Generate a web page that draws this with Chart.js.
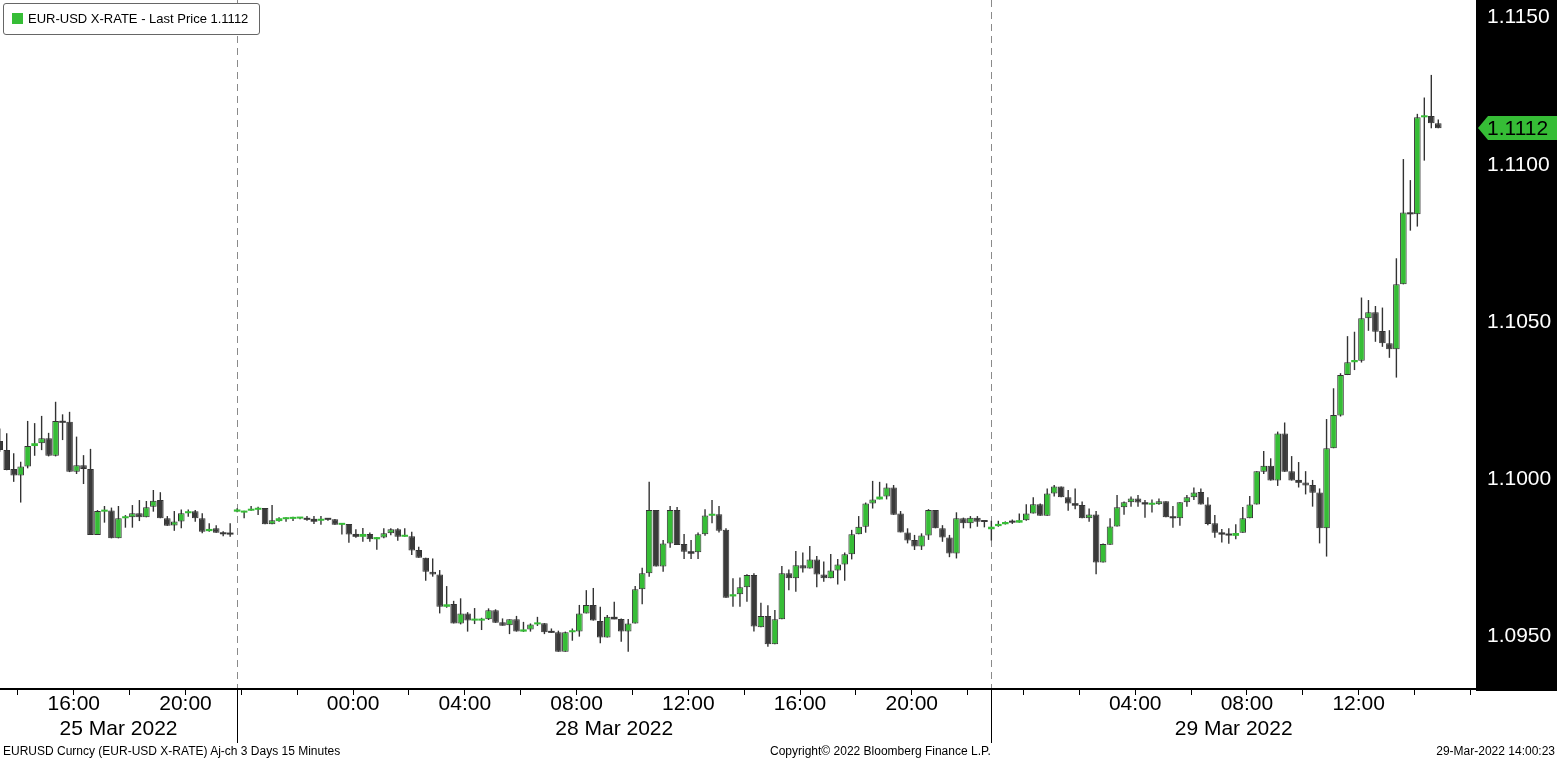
<!DOCTYPE html>
<html><head><meta charset="utf-8">
<script src="https://cdn.jsdelivr.net/npm/chart.js@4.4.1/dist/chart.umd.min.js"></script>
<style>
html,body{margin:0;padding:0;background:#fff;}
#wrap{position:relative;width:1557px;height:760px;overflow:hidden;background:#fff;font-family:'Liberation Sans',Arial,sans-serif;}
#cbox{position:absolute;left:0;top:0;width:1557px;height:744px;}
#legend{position:absolute;left:3px;top:3px;width:257px;height:32px;box-sizing:border-box;border:1px solid #666;border-radius:3px;background:#fff;}
#legend .sw{position:absolute;left:8px;top:9px;width:11px;height:11px;background:#36bd36;}
#legend .tx{position:absolute;left:24px;top:0;line-height:30px;font-size:13px;color:#000;white-space:nowrap;}
.ft{position:absolute;top:743px;height:16px;line-height:16px;font-size:12px;color:#000;white-space:nowrap;}
</style></head>
<body><div id="wrap"><div id="cbox"><canvas id="c"></canvas></div>
<div id="legend"><div class="sw"></div><div class="tx" id="legTx"></div></div>
<div class="ft" style="left:3px">EURUSD Curncy (EUR-USD X-RATE) Aj-ch 3 Days 15 Minutes</div>
<div class="ft" style="left:770px">Copyright© 2022 Bloomberg Finance L.P.</div>
<div class="ft" style="right:2px">29-Mar-2022 14:00:23</div>
</div>
<script>
// ---- data: 15-minute EUR-USD bars (bar index starts at firstBar) ----
const firstBar = -1;
const openP = [
1.10121,1.10092,1.10032,1.10011,1.10040,1.10105,1.10114,1.10130,1.10074,1.10185,
1.10182,1.10023,1.10044,1.10032,1.09822,1.09896,1.09900,1.09811,1.09875,1.09878,
1.09891,1.09878,1.09912,1.09933,1.09875,1.09852,1.09865,1.09891,1.09897,1.09875,
1.09834,1.09843,1.09829,1.09824,1.09896,1.09893,1.09899,1.09902,1.09908,1.09856,
1.09866,1.09872,1.09873,1.09874,1.09875,1.09873,1.09867,1.09873,1.09872,1.09854,
1.09857,1.09825,1.09816,1.09825,1.09808,1.09814,1.09827,1.09840,1.09816,1.09818,
1.09774,1.09749,1.09705,1.09696,1.09593,1.09602,1.09540,1.09572,1.09549,1.09549,
1.09553,1.09582,1.09544,1.09534,1.09553,1.09514,1.09521,1.09537,1.09541,1.09514,
1.09512,1.09450,1.09512,1.09514,1.09572,1.09599,1.09548,1.09495,1.09561,1.09554,
1.09514,1.09540,1.09649,1.09700,1.09901,1.09721,1.09795,1.09901,1.09793,1.09770,
1.09767,1.09824,1.09883,1.09888,1.09838,1.09626,1.09633,1.09655,1.09694,1.09528,
1.09564,1.09474,1.09553,1.09700,1.09684,1.09725,1.09715,1.09744,1.09696,1.09684,
1.09709,1.09728,1.09760,1.09824,1.09848,1.09922,1.09935,1.09944,1.09973,1.09890,
1.09830,1.09806,1.09785,1.09820,1.09901,1.09843,1.09814,1.09763,1.09875,1.09859,
1.09877,1.09866,1.09840,1.09850,1.09856,1.09863,1.09861,1.09869,1.09890,1.09920,
1.09883,1.09954,1.09976,1.09942,1.09923,1.09917,1.09875,1.09887,1.09734,1.09791,
1.09849,1.09910,1.09926,1.09938,1.09926,1.09918,1.09920,1.09929,1.09878,1.09875,
1.09926,1.09942,1.09959,1.09919,1.09859,1.09830,1.09825,1.09819,1.09829,1.09875,
1.09919,1.10023,1.10042,1.09995,1.10145,1.10025,1.09997,1.09989,1.09981,1.09957,
1.09843,1.10098,1.10202,1.10331,1.10372,1.10377,1.10512,1.10531,1.10471,1.10432,
1.10413,1.10620,1.10849,1.10843,1.11152,1.11156,1.11133];
const highP = [
1.10161,1.10146,1.10082,1.10055,1.10185,1.10178,1.10201,1.10147,1.10246,1.10206,
1.10214,1.10135,1.10076,1.10096,1.09901,1.09914,1.09909,1.09914,1.09885,1.09917,
1.09933,1.09930,1.09965,1.09958,1.09882,1.09898,1.09903,1.09903,1.09901,1.09891,
1.09859,1.09853,1.09834,1.09859,1.09907,1.09899,1.09914,1.09912,1.09908,1.09917,
1.09878,1.09878,1.09880,1.09877,1.09882,1.09882,1.09882,1.09875,1.09873,1.09859,
1.09857,1.09840,1.09844,1.09830,1.09815,1.09843,1.09843,1.09843,1.09843,1.09832,
1.09784,1.09749,1.09747,1.09710,1.09659,1.09612,1.09620,1.09576,1.09589,1.09558,
1.09588,1.09585,1.09556,1.09553,1.09564,1.09545,1.09540,1.09561,1.09541,1.09524,
1.09517,1.09514,1.09524,1.09599,1.09646,1.09653,1.09593,1.09567,1.09609,1.09556,
1.09554,1.09659,1.09717,1.09991,1.09901,1.09806,1.09914,1.09911,1.09825,1.09806,
1.09830,1.09904,1.09933,1.09914,1.09843,1.09684,1.09686,1.09697,1.09700,1.09606,
1.09598,1.09583,1.09723,1.09712,1.09771,1.09766,1.09787,1.09755,1.09737,1.09761,
1.09745,1.09766,1.09838,1.09882,1.09925,1.09994,1.09991,1.09986,1.09981,1.09898,
1.09843,1.09822,1.09827,1.09904,1.09901,1.09853,1.09822,1.09894,1.09877,1.09882,
1.09882,1.09866,1.09867,1.09867,1.09865,1.09871,1.09890,1.09920,1.09942,1.09922,
1.09970,1.09981,1.09976,1.09965,1.09970,1.09928,1.09906,1.09898,1.09795,1.09875,
1.09949,1.09928,1.09944,1.09949,1.09933,1.09935,1.09938,1.09929,1.09914,1.09926,
1.09949,1.09973,1.09970,1.09942,1.09885,1.09841,1.09843,1.09856,1.09911,1.09946,
1.10025,1.10089,1.10066,1.10151,1.10180,1.10073,1.10054,1.10025,1.09997,1.09970,
1.10191,1.10289,1.10337,1.10455,1.10469,1.10578,1.10570,1.10551,1.10546,1.10474,
1.10703,1.11019,1.10952,1.11163,1.11215,1.11287,1.11145];
const lowP = [
1.10087,1.10028,1.09991,1.09925,1.10034,1.10074,1.10092,1.10072,1.10072,1.10124,
1.10022,1.10016,1.09984,1.09822,1.09822,1.09861,1.09811,1.09811,1.09845,1.09845,
1.09866,1.09878,1.09896,1.09875,1.09851,1.09835,1.09843,1.09880,1.09864,1.09827,
1.09832,1.09829,1.09818,1.09816,1.09894,1.09875,1.09899,1.09885,1.09856,1.09856,
1.09864,1.09864,1.09866,1.09872,1.09867,1.09857,1.09854,1.09867,1.09854,1.09823,
1.09797,1.09813,1.09800,1.09800,1.09775,1.09811,1.09821,1.09803,1.09816,1.09758,
1.09749,1.09676,1.09689,1.09572,1.09590,1.09540,1.09537,1.09514,1.09538,1.09519,
1.09551,1.09542,1.09533,1.09506,1.09514,1.09513,1.09514,1.09532,1.09506,1.09510,
1.09450,1.09450,1.09485,1.09498,1.09572,1.09549,1.09477,1.09495,1.09553,1.09482,
1.09450,1.09540,1.09601,1.09689,1.09721,1.09705,1.09781,1.09790,1.09745,1.09745,
1.09745,1.09819,1.09859,1.09830,1.09622,1.09593,1.09593,1.09609,1.09514,1.09528,
1.09466,1.09474,1.09553,1.09646,1.09641,1.09702,1.09715,1.09655,1.09673,1.09684,
1.09664,1.09676,1.09744,1.09824,1.09829,1.09906,1.09935,1.09935,1.09886,1.09830,
1.09795,1.09774,1.09774,1.09806,1.09843,1.09800,1.09751,1.09747,1.09843,1.09843,
1.09848,1.09846,1.09804,1.09848,1.09855,1.09857,1.09861,1.09867,1.09890,1.09883,
1.09883,1.09944,1.09942,1.09899,1.09904,1.09875,1.09864,1.09697,1.09734,1.09791,
1.09849,1.09886,1.09912,1.09912,1.09877,1.09893,1.09918,1.09878,1.09845,1.09851,
1.09912,1.09933,1.09919,1.09853,1.09813,1.09798,1.09794,1.09808,1.09829,1.09875,
1.09919,1.10016,1.09995,1.09978,1.10023,1.09995,1.09973,1.09951,1.09912,1.09795,
1.09753,1.10098,1.10199,1.10331,1.10347,1.10371,1.10472,1.10437,1.10421,1.10386,
1.10323,1.10620,1.10791,1.10804,1.11014,1.11117,1.11117];
const closeP = [
1.10092,1.10029,1.10011,1.10040,1.10105,1.10114,1.10130,1.10074,1.10185,1.10179,
1.10023,1.10044,1.10032,1.09822,1.09898,1.09900,1.09811,1.09875,1.09878,1.09891,
1.09878,1.09910,1.09931,1.09875,1.09851,1.09865,1.09891,1.09897,1.09875,1.09832,
1.09841,1.09829,1.09824,1.09823,1.09903,1.09897,1.09904,1.09908,1.09856,1.09869,
1.09875,1.09875,1.09876,1.09876,1.09870,1.09864,1.09872,1.09870,1.09854,1.09857,
1.09823,1.09816,1.09825,1.09808,1.09815,1.09827,1.09840,1.09816,1.09818,1.09772,
1.09749,1.09705,1.09696,1.09593,1.09601,1.09540,1.09572,1.09549,1.09551,1.09553,
1.09582,1.09542,1.09533,1.09553,1.09514,1.09521,1.09537,1.09541,1.09512,1.09510,
1.09450,1.09512,1.09516,1.09572,1.09599,1.09549,1.09495,1.09561,1.09553,1.09514,
1.09540,1.09649,1.09700,1.09901,1.09721,1.09795,1.09901,1.09790,1.09768,1.09762,
1.09824,1.09884,1.09888,1.09835,1.09622,1.09633,1.09655,1.09694,1.09530,1.09564,
1.09474,1.09553,1.09700,1.09684,1.09725,1.09715,1.09744,1.09696,1.09684,1.09709,
1.09728,1.09760,1.09824,1.09848,1.09922,1.09935,1.09944,1.09973,1.09886,1.09830,
1.09804,1.09785,1.09820,1.09901,1.09843,1.09814,1.09763,1.09875,1.09859,1.09877,
1.09864,1.09863,1.09848,1.09857,1.09863,1.09861,1.09869,1.09890,1.09920,1.09883,
1.09954,1.09976,1.09942,1.09922,1.09915,1.09875,1.09887,1.09734,1.09793,1.09849,
1.09910,1.09926,1.09938,1.09925,1.09919,1.09920,1.09929,1.09878,1.09875,1.09926,
1.09942,1.09957,1.09919,1.09857,1.09829,1.09823,1.09820,1.09828,1.09875,1.09919,
1.10025,1.10042,1.09995,1.10145,1.10023,1.09995,1.09988,1.09979,1.09956,1.09843,
1.10098,1.10204,1.10331,1.10372,1.10379,1.10512,1.10531,1.10469,1.10432,1.10413,
1.10620,1.10849,1.10843,1.11152,1.11156,1.11133,1.11117];

// session starts (bar index) -> day separators
const sessionStarts = [33, 141];
const dateLabels = ['25 Mar 2022', '28 Mar 2022', '29 Mar 2022'];
// 2-hour tick bars and their labels
const hourTickBars = [2,10,18,26,34,42,50,58,66,74,82,90,98,106,114,122,130,138,146,154,162,170,178,186,194,202,210];
const hourTickLabels = ['','16:00','','20:00','','','00:00','','04:00','','08:00','','12:00','','16:00','','20:00','','','','04:00','','08:00','','12:00','',''];
const yTickValues = [1.095, 1.100, 1.105, 1.110, 1.115];

// ---- view constants ----
const X_MIN = -0.96, X_MAX = 210.4;
const Y_MIN = 1.093312, Y_MAX = 1.115256;
const GREEN = '#36bd36', DARK = '#3a3a3a', EDGE = '#333333';
const FONT = "'Liberation Sans', Arial, sans-serif";

document.getElementById('legTx').textContent = 'EUR-USD X-RATE - Last Price ' + closeP[closeP.length - 1].toFixed(4);

const bodies = openP.map((o, i) => ({ x: i + firstBar, y: [Math.min(o, closeP[i]), Math.max(o, closeP[i])] }));
const wicks = lowP.map((l, i) => ({ x: i + firstBar, y: [l, highP[i]] }));
const bodyColors = openP.map((o, i) => closeP[i] > o ? GREEN : DARK);
const bodyBorders = openP.map((o, i) => Math.abs(closeP[i] - o) < 0.00009 ? 0 : 1);

const bgPlugin = {
  id: 'bg',
  beforeDraw(chart) {
    const { ctx, chartArea, width, height } = chart;
    ctx.save();
    ctx.fillStyle = '#fff'; ctx.fillRect(0, 0, width, height);
    ctx.fillStyle = '#000'; ctx.fillRect(chartArea.right, 0, width - chartArea.right, chartArea.bottom + 2);
    ctx.restore();
    // keep the top price label inside the canvas, as the terminal does
    const items = chart.scales.y.getLabelItems(chartArea);
    items.forEach(it => { if (it.options.translation[1] < 17) it.options.translation[1] = 17; });
  }
};
const tagPlugin = {
  id: 'tag',
  afterDraw(chart) {
    const { ctx, chartArea, width } = chart;
    const v = closeP[closeP.length - 1];
    const y = Math.round(chart.scales.y.getPixelForValue(v));
    const x0 = chartArea.right + 2;
    ctx.save();
    ctx.fillStyle = GREEN;
    ctx.beginPath();
    ctx.moveTo(x0, y); ctx.lineTo(x0 + 10, y - 12); ctx.lineTo(width, y - 12);
    ctx.lineTo(width, y + 12); ctx.lineTo(x0 + 10, y + 12); ctx.closePath(); ctx.fill();
    ctx.fillStyle = '#000'; ctx.font = '21px ' + FONT; ctx.textBaseline = 'middle'; ctx.textAlign = 'left';
    ctx.fillText(v.toFixed(4), chartArea.right + 11, y + 1);
    ctx.restore();
  }
};

new Chart(document.getElementById('c'), {
  type: 'bar',
  data: {
    datasets: [
      { label: 'body', data: bodies, order: 0, backgroundColor: bodyColors, borderColor: EDGE,
        borderWidth: bodyBorders, borderSkipped: false, barThickness: 6.6, minBarLength: 2, inflateAmount: 0, grouped: false },
      { label: 'wick', data: wicks, order: 1, backgroundColor: EDGE, borderWidth: 0,
        barThickness: 1.4, inflateAmount: 0, grouped: false }
    ]
  },
  options: {
    responsive: true, maintainAspectRatio: false, animation: false, events: [],
    layout: { padding: 0 },
    plugins: { legend: { display: false }, tooltip: { enabled: false } },
    scales: {
      xDiv: {
        type: 'linear', position: 'bottom', weight: 0, min: X_MIN, max: X_MAX, offset: false, bounds: 'data',
        afterBuildTicks: s => { s.ticks = sessionStarts.map(v => ({ value: v })); },
        afterFit: s => { s.height = 0; s.paddingLeft = 0; s.paddingRight = 0; },
        ticks: { display: false },
        grid: { display: true, drawOnChartArea: true, drawTicks: true, tickLength: 54, color: '#8a8a8a',
          lineWidth: 1, tickColor: '#000', tickWidth: 1, offset: false },
        border: { display: false, dash: [7, 5] }
      },
      x: {
        type: 'linear', position: 'bottom', weight: 1, min: X_MIN, max: X_MAX, offset: false, bounds: 'data',
        afterBuildTicks: s => { s.ticks = hourTickBars.map(v => ({ value: v - 0.4 })); },
        afterFit: s => { s.height = 27; s.paddingLeft = 0; s.paddingRight = 0; },
        ticks: { autoSkip: false, maxRotation: 0, minRotation: 0, padding: -1, color: '#000',
          font: { family: FONT, size: 21, lineHeight: 1 }, callback: (v, i) => hourTickLabels[i] },
        grid: { display: true, drawOnChartArea: false, drawTicks: true, tickLength: 6, tickColor: '#000', tickWidth: 1, offset: false },
        border: { display: true, color: '#000', width: 2 }
      },
      xDate: {
        type: 'linear', position: 'bottom', weight: 2, min: X_MIN, max: X_MAX, offset: false, bounds: 'data',
        afterBuildTicks: s => {
          const b = [X_MIN, ...sessionStarts, X_MAX];
          s.ticks = dateLabels.map((_, i) => ({ value: (b[i] + b[i + 1]) / 2 }));
        },
        afterFit: s => { s.height = 28; s.paddingLeft = 0; s.paddingRight = 0; },
        ticks: { autoSkip: false, maxRotation: 0, minRotation: 0, padding: 2.5, color: '#000',
          font: { family: FONT, size: 21, lineHeight: 1 }, callback: (v, i) => dateLabels[i] },
        grid: { display: false, drawTicks: false },
        border: { display: false }
      },
      y: {
        type: 'linear', position: 'right', min: Y_MIN, max: Y_MAX, bounds: 'data',
        afterBuildTicks: s => { s.ticks = yTickValues.map(v => ({ value: v })); },
        afterFit: s => { s.width = 81; s.paddingTop = 0; s.paddingBottom = 0; },
        ticks: { color: '#fff', padding: 11, font: { family: FONT, size: 21, lineHeight: 1 },
          callback: v => Number(v).toFixed(4) },
        grid: { display: false, drawTicks: false },
        border: { display: false }
      }
    }
  },
  plugins: [bgPlugin, tagPlugin]
});
</script>
</body></html>
